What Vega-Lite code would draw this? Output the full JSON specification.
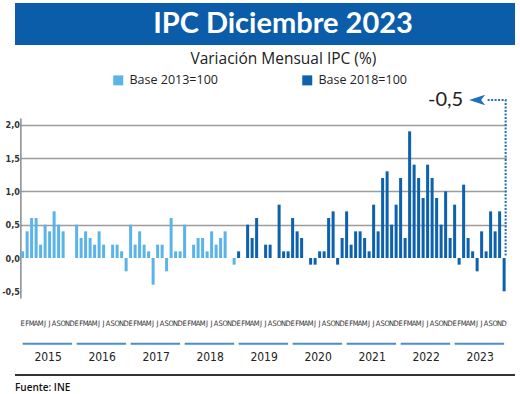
{
"$schema": "https://vega.github.io/schema/vega-lite/v6.json",
"padding": {"left": 1, "top": 3, "right": 0, "bottom": 0},
"background": "white",
"spacing": 6,
"center": true,
"config": {"view": {"stroke": null}, "font": "Open Sans",
 "locale": {"number": {"decimal": ",", "thousands": ".", "grouping": [3], "currency": ["$", ""], "minus": "-"}}},
"datasets": {
"ipc": [
{"mes":"2015-01","v":0.1,"base":"Base 2013=100"},{"mes":"2015-02","v":0.4,"base":"Base 2013=100"},{"mes":"2015-03","v":0.6,"base":"Base 2013=100"},{"mes":"2015-04","v":0.6,"base":"Base 2013=100"},{"mes":"2015-05","v":0.2,"base":"Base 2013=100"},{"mes":"2015-06","v":0.5,"base":"Base 2013=100"},{"mes":"2015-07","v":0.4,"base":"Base 2013=100"},{"mes":"2015-08","v":0.7,"base":"Base 2013=100"},{"mes":"2015-09","v":0.5,"base":"Base 2013=100"},{"mes":"2015-10","v":0.4,"base":"Base 2013=100"},{"mes":"2015-11","v":0.0,"base":"Base 2013=100"},{"mes":"2015-12","v":0.0,"base":"Base 2013=100"},
{"mes":"2016-01","v":0.5,"base":"Base 2013=100"},{"mes":"2016-02","v":0.3,"base":"Base 2013=100"},{"mes":"2016-03","v":0.4,"base":"Base 2013=100"},{"mes":"2016-04","v":0.3,"base":"Base 2013=100"},{"mes":"2016-05","v":0.2,"base":"Base 2013=100"},{"mes":"2016-06","v":0.4,"base":"Base 2013=100"},{"mes":"2016-07","v":0.2,"base":"Base 2013=100"},{"mes":"2016-08","v":0.0,"base":"Base 2013=100"},{"mes":"2016-09","v":0.2,"base":"Base 2013=100"},{"mes":"2016-10","v":0.2,"base":"Base 2013=100"},{"mes":"2016-11","v":0.1,"base":"Base 2013=100"},{"mes":"2016-12","v":-0.2,"base":"Base 2013=100"},
{"mes":"2017-01","v":0.5,"base":"Base 2013=100"},{"mes":"2017-02","v":0.2,"base":"Base 2013=100"},{"mes":"2017-03","v":0.4,"base":"Base 2013=100"},{"mes":"2017-04","v":0.2,"base":"Base 2013=100"},{"mes":"2017-05","v":0.1,"base":"Base 2013=100"},{"mes":"2017-06","v":-0.4,"base":"Base 2013=100"},{"mes":"2017-07","v":0.2,"base":"Base 2013=100"},{"mes":"2017-08","v":0.2,"base":"Base 2013=100"},{"mes":"2017-09","v":-0.2,"base":"Base 2013=100"},{"mes":"2017-10","v":0.6,"base":"Base 2013=100"},{"mes":"2017-11","v":0.1,"base":"Base 2013=100"},{"mes":"2017-12","v":0.1,"base":"Base 2013=100"},
{"mes":"2018-01","v":0.5,"base":"Base 2013=100"},{"mes":"2018-02","v":0.0,"base":"Base 2013=100"},{"mes":"2018-03","v":0.2,"base":"Base 2013=100"},{"mes":"2018-04","v":0.3,"base":"Base 2013=100"},{"mes":"2018-05","v":0.3,"base":"Base 2013=100"},{"mes":"2018-06","v":0.1,"base":"Base 2013=100"},{"mes":"2018-07","v":0.4,"base":"Base 2013=100"},{"mes":"2018-08","v":0.2,"base":"Base 2013=100"},{"mes":"2018-09","v":0.3,"base":"Base 2013=100"},{"mes":"2018-10","v":0.4,"base":"Base 2013=100"},{"mes":"2018-11","v":0.0,"base":"Base 2013=100"},{"mes":"2018-12","v":-0.1,"base":"Base 2013=100"},
{"mes":"2019-01","v":0.1,"base":"Base 2018=100"},{"mes":"2019-02","v":0.0,"base":"Base 2018=100"},{"mes":"2019-03","v":0.5,"base":"Base 2018=100"},{"mes":"2019-04","v":0.3,"base":"Base 2018=100"},{"mes":"2019-05","v":0.6,"base":"Base 2018=100"},{"mes":"2019-06","v":0.0,"base":"Base 2018=100"},{"mes":"2019-07","v":0.2,"base":"Base 2018=100"},{"mes":"2019-08","v":0.2,"base":"Base 2018=100"},{"mes":"2019-09","v":0.0,"base":"Base 2018=100"},{"mes":"2019-10","v":0.8,"base":"Base 2018=100"},{"mes":"2019-11","v":0.1,"base":"Base 2018=100"},{"mes":"2019-12","v":0.1,"base":"Base 2018=100"},
{"mes":"2020-01","v":0.6,"base":"Base 2018=100"},{"mes":"2020-02","v":0.4,"base":"Base 2018=100"},{"mes":"2020-03","v":0.3,"base":"Base 2018=100"},{"mes":"2020-04","v":0.0,"base":"Base 2018=100"},{"mes":"2020-05","v":-0.1,"base":"Base 2018=100"},{"mes":"2020-06","v":-0.1,"base":"Base 2018=100"},{"mes":"2020-07","v":0.1,"base":"Base 2018=100"},{"mes":"2020-08","v":0.1,"base":"Base 2018=100"},{"mes":"2020-09","v":0.6,"base":"Base 2018=100"},{"mes":"2020-10","v":0.7,"base":"Base 2018=100"},{"mes":"2020-11","v":-0.1,"base":"Base 2018=100"},{"mes":"2020-12","v":0.3,"base":"Base 2018=100"},
{"mes":"2021-01","v":0.7,"base":"Base 2018=100"},{"mes":"2021-02","v":0.2,"base":"Base 2018=100"},{"mes":"2021-03","v":0.4,"base":"Base 2018=100"},{"mes":"2021-04","v":0.4,"base":"Base 2018=100"},{"mes":"2021-05","v":0.3,"base":"Base 2018=100"},{"mes":"2021-06","v":0.1,"base":"Base 2018=100"},{"mes":"2021-07","v":0.8,"base":"Base 2018=100"},{"mes":"2021-08","v":0.4,"base":"Base 2018=100"},{"mes":"2021-09","v":1.2,"base":"Base 2018=100"},{"mes":"2021-10","v":1.3,"base":"Base 2018=100"},{"mes":"2021-11","v":0.5,"base":"Base 2018=100"},{"mes":"2021-12","v":0.8,"base":"Base 2018=100"},
{"mes":"2022-01","v":1.2,"base":"Base 2018=100"},{"mes":"2022-02","v":0.3,"base":"Base 2018=100"},{"mes":"2022-03","v":1.9,"base":"Base 2018=100"},{"mes":"2022-04","v":1.4,"base":"Base 2018=100"},{"mes":"2022-05","v":1.2,"base":"Base 2018=100"},{"mes":"2022-06","v":0.9,"base":"Base 2018=100"},{"mes":"2022-07","v":1.4,"base":"Base 2018=100"},{"mes":"2022-08","v":1.2,"base":"Base 2018=100"},{"mes":"2022-09","v":0.9,"base":"Base 2018=100"},{"mes":"2022-10","v":0.5,"base":"Base 2018=100"},{"mes":"2022-11","v":1.0,"base":"Base 2018=100"},{"mes":"2022-12","v":0.3,"base":"Base 2018=100"},
{"mes":"2023-01","v":0.8,"base":"Base 2018=100"},{"mes":"2023-02","v":-0.1,"base":"Base 2018=100"},{"mes":"2023-03","v":1.1,"base":"Base 2018=100"},{"mes":"2023-04","v":0.3,"base":"Base 2018=100"},{"mes":"2023-05","v":0.1,"base":"Base 2018=100"},{"mes":"2023-06","v":-0.2,"base":"Base 2018=100"},{"mes":"2023-07","v":0.4,"base":"Base 2018=100"},{"mes":"2023-08","v":0.1,"base":"Base 2018=100"},{"mes":"2023-09","v":0.7,"base":"Base 2018=100"},{"mes":"2023-10","v":0.4,"base":"Base 2018=100"},{"mes":"2023-11","v":0.7,"base":"Base 2018=100"},{"mes":"2023-12","v":-0.5,"base":"Base 2018=100"}
],
"anios": [
{"anio":"2015","mes":"2015-01","fin":"2015-12","centro":"2015-07"},
{"anio":"2016","mes":"2016-01","fin":"2016-12","centro":"2016-07"},
{"anio":"2017","mes":"2017-01","fin":"2017-12","centro":"2017-07"},
{"anio":"2018","mes":"2018-01","fin":"2018-12","centro":"2018-07"},
{"anio":"2019","mes":"2019-01","fin":"2019-12","centro":"2019-07"},
{"anio":"2020","mes":"2020-01","fin":"2020-12","centro":"2020-07"},
{"anio":"2021","mes":"2021-01","fin":"2021-12","centro":"2021-07"},
{"anio":"2022","mes":"2022-01","fin":"2022-12","centro":"2022-07"},
{"anio":"2023","mes":"2023-01","fin":"2023-12","centro":"2023-07"}
]
},
"vconcat": [
{
"width": 500, "height": 42,
"view": {"fill": "#0b5da9", "stroke": null},
"data": {"values": [{"titulo": "IPC Diciembre 2023"}]},
"mark": {"type": "text", "font": "Lato", "fontWeight": "bold", "fontSize": 29, "color": "white", "dx": 18, "baseline": "middle", "align": "center"},
"encoding": {"text": {"field": "titulo"}}
},
{
"width": 486, "height": 180,
"title": {"text": "Variación Mensual IPC (%)", "fontSize": 15.5, "font": "Open Sans", "fontWeight": "normal", "color": "#222", "anchor": "middle", "dx": 20, "offset": 23},
"layer": [
{
"data": {"name": "ipc"},
"mark": {"type": "bar"},
"encoding": {
"x": {"field": "mes", "type": "ordinal", "scale": {"paddingInner": 0.33, "paddingOuter": 0.165},
 "axis": {"title": null, "domain": false, "ticks": false, "labelAngle": 0, "labelOverlap": false, "labelPadding": 21, "labelFont": "Liberation Sans Narrow, DejaVu Sans Condensed", "labelFontSize": 7.5, "labelColor": "#333", "labelBound": false, "labelFlush": false,
 "labelExpr": "['E','F','M','A','M','J','J','A','S','O','N','D'][toNumber(slice(datum.value,5,7))-1]"}},
"y": {"field": "v", "type": "quantitative", "scale": {"domain": [-0.6, 2.1], "nice": false, "zero": false},
 "axis": {"title": null, "tickCount": 6, "format": ".1f", "labelOverlap": false, "ticks": false, "domain": true, "domainColor": "#8a8a8a", "domainWidth": 1.5, "labelPadding": 1,
 "labelFont": "Liberation Sans Narrow, DejaVu Sans Condensed", "labelFontSize": 9, "labelFontWeight": "bold", "labelColor": "#333",
 "grid": true, "gridColor": "#9c9c9c", "gridWidth": 1.5,
 "gridOpacity": {"condition": {"test": "datum.value <= 0", "value": 0}, "value": 1}}},
"color": {"field": "base", "type": "nominal", "scale": {"domain": ["Base 2013=100", "Base 2018=100"], "range": ["#5ab4e8", "#0d62ad"]},
 "legend": {"title": null, "orient": "none", "legendX": 97, "legendY": 71, "direction": "horizontal", "symbolType": "square", "symbolSize": 100, "symbolStrokeWidth": 0, "symbolOpacity": 1, "labelFontSize": 12.5, "labelFont": "Open Sans", "labelColor": "#222", "labelOffset": 5, "columnPadding": 83, "labelLimit": 200}}
}
},
{
"mark": {"type": "rule", "color": "#666666", "strokeWidth": 1, "strokeDash": [2, 2]},
"encoding": {"y": {"datum": 0}}
},
{
"data": {"name": "anios"},
"mark": {"type": "rule", "color": "#4a8fca", "strokeWidth": 2},
"encoding": {"x": {"field": "mes", "type": "ordinal", "axis": {"title": null}}, "x2": {"field": "fin"}, "y": {"datum": -1.285}}
},
{
"data": {"name": "anios"},
"mark": {"type": "text", "font": "Liberation Sans Narrow, DejaVu Sans Condensed", "fontSize": 12, "color": "#222", "baseline": "middle"},
"encoding": {"x": {"field": "centro", "type": "ordinal", "bandPosition": 0, "axis": {"title": null}}, "y": {"datum": -1.48}, "text": {"field": "anio"}}
},
{
"data": {"values": [{"mes": "2023-08", "v": 2.37, "o": 1}, {"mes": "2023-12", "v": 2.37, "o": 2}, {"mes": "2023-12", "v": 0.03, "o": 3}]},
"mark": {"type": "line", "color": "#1f6fbf", "strokeWidth": 2, "strokeDash": [2, 1.5]},
"encoding": {"x": {"field": "mes", "type": "ordinal", "bandPosition": 1, "axis": {"title": null}}, "y": {"field": "v", "type": "quantitative", "axis": {"title": null}}, "order": {"field": "o"}}
},
{
"data": {"values": [{"mes": "2023-06", "v": 2.37}]},
"mark": {"type": "point", "shape": "M1,-0.65L-1,0L1,0.65L0.5,0Z", "filled": true, "size": 256, "color": "#1f6fbf", "opacity": 1},
"encoding": {"x": {"field": "mes", "type": "ordinal", "axis": {"title": null}}, "y": {"field": "v", "type": "quantitative", "axis": {"title": null}}}
},
{
"data": {"values": [{"mes": "2022-11", "v": 2.37, "t": "-0,5"}]},
"mark": {"type": "text", "font": "Lato", "fontSize": 20, "color": "#222", "baseline": "middle"},
"encoding": {"x": {"field": "mes", "type": "ordinal", "axis": {"title": null}}, "y": {"field": "v", "type": "quantitative", "axis": {"title": null}}, "text": {"field": "t"}}
}
]
},
{
"width": 500, "height": 2,
"view": {"fill": "#333333", "stroke": null},
"title": {"text": "Fuente: INE", "orient": "bottom", "anchor": "start", "fontSize": 10, "fontWeight": 600, "font": "Open Sans", "color": "#111", "offset": 3},
"data": {"values": [{"a": 1}]},
"mark": {"type": "text", "text": ""},
"encoding": {}
}
]
}
